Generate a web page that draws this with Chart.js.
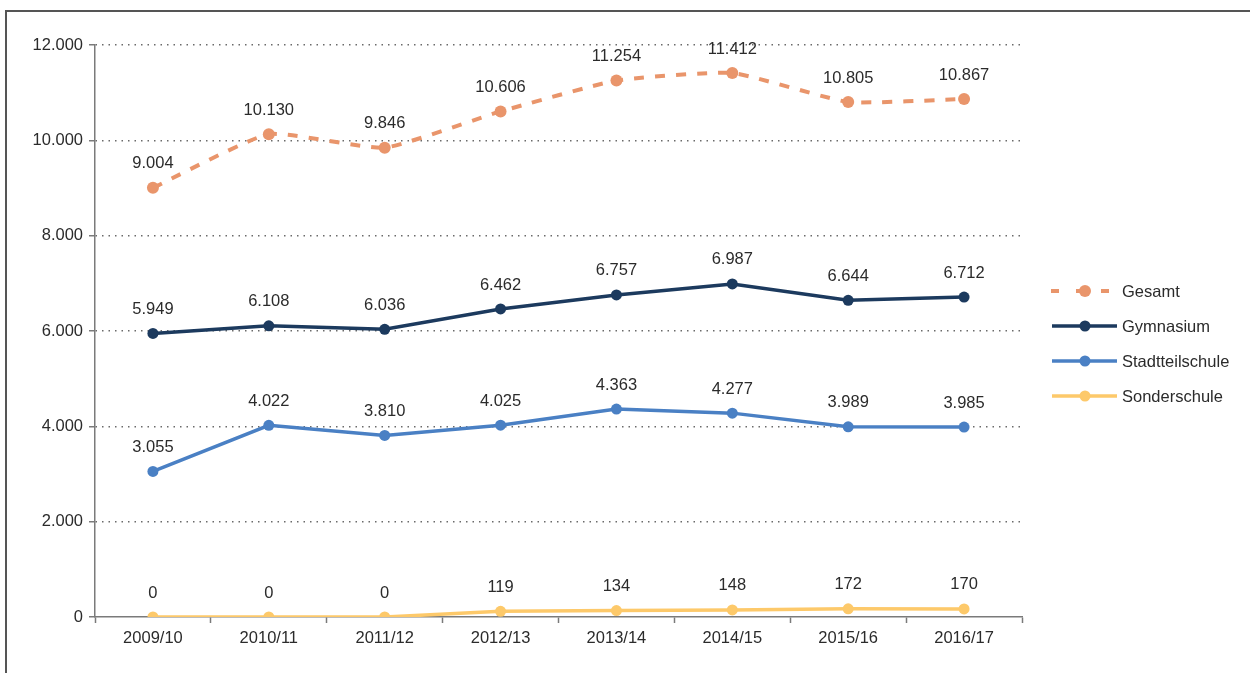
<!DOCTYPE html>
<html lang="de">
<head>
<meta charset="utf-8">
<title>Schülerzahlen nach Schulform</title>
<script src="https://cdn.jsdelivr.net/npm/chart.js@4.4.1/dist/chart.umd.min.js"></script>
<style>
  html, body { margin: 0; padding: 0; background: #fff; }
  #wrap { position: relative; width: 1250px; height: 673px; overflow: hidden; }
  #frame { position: absolute; left: 5px; top: 10px; right: -10px; bottom: -10px;
           border-top: 2px solid #555; border-left: 2px solid #555; }
  canvas { position: absolute; left: 0; top: 0; }
</style>
</head>
<body>
<div id="wrap">
  <div id="frame"></div>
  <canvas id="chart" width="1250" height="673"></canvas>
</div>
<script>
// Schuljahre
const years = ['2009/10', '2010/11', '2011/12', '2012/13', '2013/14', '2014/15', '2015/16', '2016/17'];

// Anzahl je Schulform
const gesamt          = [9004, 10130, 9846, 10606, 11254, 11412, 10805, 10867];
const gymnasium       = [5949, 6108, 6036, 6462, 6757, 6987, 6644, 6712];
const stadtteilschule = [3055, 4022, 3810, 4025, 4363, 4277, 3989, 3985];
const sonderschule    = [0, 0, 0, 119, 134, 148, 172, 170];

// Achsenbeschriftung der y-Achse
const yTicks = [0, 2000, 4000, 6000, 8000, 10000, 12000];

const FONT = '"Liberation Sans", Arial, Helvetica, sans-serif';
const TEXT = '#2b2b2b';
const FS = 16.5;

const fmt = v => String(v).replace(/\B(?=(\d{3})+(?!\d))/g, '.');

// Werte über den Punkten
const valueLabels = {
  id: 'valueLabels',
  afterDatasetsDraw(chart) {
    const ctx = chart.ctx;
    ctx.save();
    ctx.font = FS + 'px ' + FONT;
    ctx.fillStyle = TEXT;
    ctx.textAlign = 'center';
    ctx.textBaseline = 'middle';
    chart.data.datasets.forEach((ds, i) => {
      const meta = chart.getDatasetMeta(i);
      meta.data.forEach((pt, j) => {
        ctx.fillText(fmt(ds.data[j]), pt.x, pt.y - 24);
      });
    });
    ctx.restore();
  }
};

// Legende rechts neben dem Diagramm
const sideLegend = {
  id: 'sideLegend',
  afterDraw(chart) {
    const ctx = chart.ctx;
    const x0 = 1052, x1 = 1117, xm = 1085, tx = 1122;
    const y0 = 291, dy = 35;
    ctx.save();
    chart.data.datasets.forEach((ds, i) => {
      const y = y0 + i * dy;
      ctx.strokeStyle = ds.borderColor;
      ctx.lineWidth = ds.borderWidth;
      ctx.lineCap = 'butt';
      ctx.beginPath();
      if (ds.borderDash) {
        ctx.lineDashOffset = 0;
        ctx.setLineDash([8, 17]);
        ctx.moveTo(x0 - 1, y);
        ctx.lineTo(x1, y);
      } else {
        ctx.setLineDash([]);
        ctx.moveTo(x0, y);
        ctx.lineTo(x1, y);
      }
      ctx.stroke();
      ctx.setLineDash([]);
      ctx.fillStyle = ds.pointBackgroundColor;
      ctx.beginPath();
      ctx.arc(xm, y, ds.pointRadius, 0, Math.PI * 2);
      ctx.fill();
      ctx.font = FS + 'px ' + FONT;
      ctx.fillStyle = TEXT;
      ctx.textAlign = 'left';
      ctx.textBaseline = 'middle';
      ctx.fillText(ds.label, tx, y + 1);
    });
    ctx.restore();
  }
};

function series(label, data, color, extra) {
  return Object.assign({
    label,
    data,
    borderColor: color,
    backgroundColor: color,
    pointBackgroundColor: color,
    pointBorderColor: color,
    borderWidth: 3.5,
    pointRadius: 5.5,
    pointBorderWidth: 0,
    pointHoverRadius: 5.5,
    tension: 0,
    fill: false
  }, extra || {});
}

new Chart(document.getElementById('chart'), {
  type: 'line',
  data: {
    labels: years,
    datasets: [
      series('Gesamt', gesamt, '#E9956B', { borderDash: [10, 11], borderWidth: 4, tension: 0.15, pointRadius: 6 }),
      series('Gymnasium', gymnasium, '#1C3A5E'),
      series('Stadtteilschule', stadtteilschule, '#4A80C4'),
      series('Sonderschule', sonderschule, '#FDC96A')
    ]
  },
  options: {
    responsive: false,
    animation: false,
    devicePixelRatio: 1,
    layout: { padding: { top: 45, right: 228, bottom: 0, left: 0 } },
    plugins: {
      legend: { display: false },
      tooltip: { enabled: false }
    },
    scales: {
      x: {
        type: 'category',
        offset: true,
        afterFit(scale) { scale.height = 56; },
        grid: {
          offset: true,
          drawOnChartArea: false,
          drawTicks: true,
          tickLength: 6,
          tickColor: '#7a7a7a',
          tickWidth: 1.5
        },
        border: { display: true, color: '#7a7a7a', width: 1.5 },
        ticks: {
          color: TEXT,
          font: { family: FONT, size: FS },
          padding: 6,
          maxRotation: 0
        }
      },
      y: {
        min: 0,
        max: 12000,
        afterFit(scale) { scale.width = 95; },
        afterBuildTicks(scale) { scale.ticks = yTicks.map(v => ({ value: v })); },
        grid: {
          color: c => (c.tick && c.tick.value === 0) ? 'rgba(0,0,0,0)' : '#6a6a6a',
          lineWidth: 1.5,
          drawTicks: true,
          tickLength: 6,
          tickColor: '#7a7a7a',
          tickWidth: 1.5,
          tickBorderDash: []
        },
        border: { display: true, color: '#7a7a7a', width: 1.5, dash: [1.5, 5] },
        ticks: {
          color: TEXT,
          font: { family: FONT, size: FS },
          padding: 6,
          callback: v => fmt(v)
        }
      }
    }
  },
  plugins: [valueLabels, sideLegend]
});
</script>
</body>
</html>
